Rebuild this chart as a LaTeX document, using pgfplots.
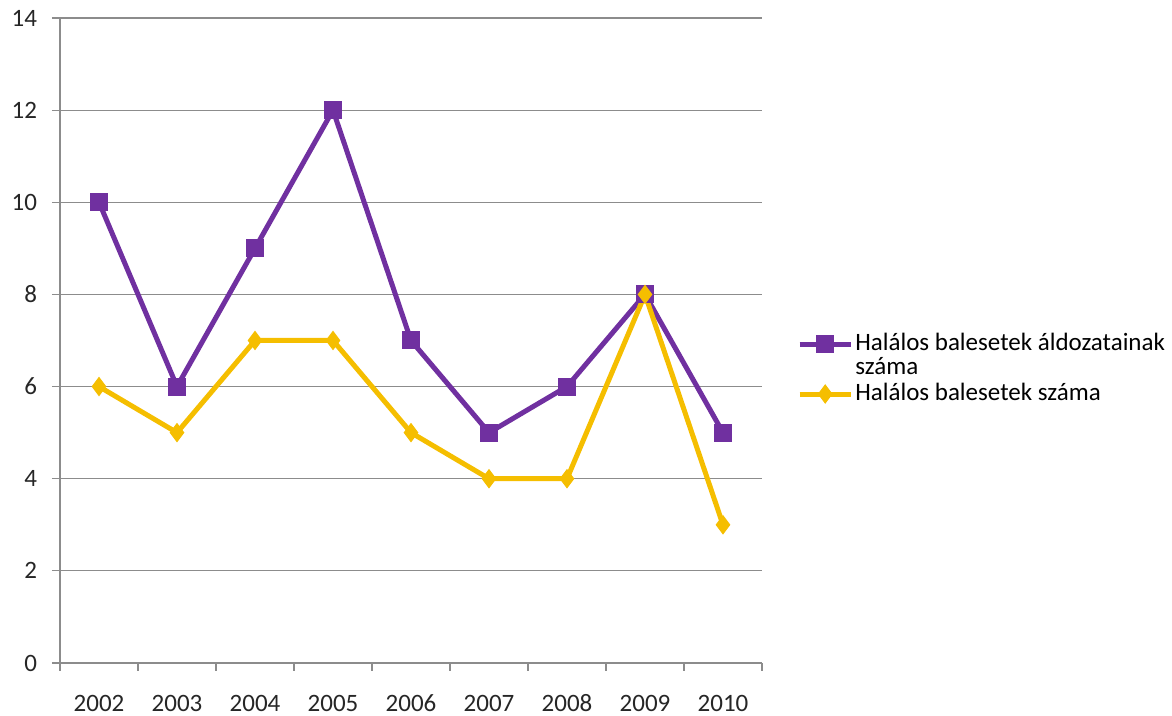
\documentclass[border=0pt]{standalone}
\usepackage{pgfplots}
\pgfplotsset{compat=1.18}
\usepackage{fontspec}
\setmainfont{Carlito}
\definecolor{purp}{HTML}{7030A0}
\definecolor{yell}{HTML}{F5BE00}
\definecolor{gridg}{HTML}{8C8C8C}
\begin{document}
\begin{tikzpicture}
\path[use as bounding box] (-30pt,-26.5pt) rectangle (556pt,331.5pt);
\begin{axis}[
  at={(0,0)}, anchor=south west,
  scale only axis, width=351pt, height=322.5pt,
  xmin=-0.5, xmax=8.5, ymin=0, ymax=14,
  axis x line=bottom, axis y line=left,
  axis line style={draw=gridg, line width=0.6pt, -},
  xtick={0,...,8},
  xticklabels={2002,2003,2004,2005,2006,2007,2008,2009,2010},
  minor xtick={-0.5,0.5,...,8.5},
  ytick={0,2,...,14},
  major x tick style={draw=none},
  minor x tick style={draw=gridg, line width=0.6pt},
  y tick style={draw=gridg, line width=0.6pt},
  tick align=outside,
  major tick length=4pt, minor tick length=4pt,
  ymajorgrids, grid style={draw=gridg, line width=0.6pt},
  tick label style={font=\fontsize{12.5}{14}\selectfont, text=black!85},
  /pgf/number format/assume math mode=true,
  xticklabel style={text height=9pt, text depth=0pt, yshift=-7.5pt},
  yticklabel style={xshift=-4pt},
  clip=false,
  legend style={at={(rel axis cs:1.050,0.5147)}, anchor=north west, draw=none, fill=none,
    inner sep=0pt, outer sep=0pt,
    font=\fontsize{12.5}{14}\selectfont, row sep=12pt, column sep=0pt,
    nodes={inner sep=1pt, text height=8.5pt, text depth=2.5pt}},
  legend cell align=left,
  legend image code/.code={\draw[mark repeat=2,mark phase=2] plot coordinates {(0cm,0cm)(0.45cm,0cm)(0.9cm,0cm)};},
]
\addplot[purp, line width=2.5pt, mark=square*, mark size=4.25pt, mark options={solid, line width=0.5pt, fill=purp}]
  coordinates {(0,10)(1,6)(2,9)(3,12)(4,7)(5,5)(6,6)(7,8)(8,5)};
\addlegendentry{\rlap{\smash{\raisebox{-12.4pt}{száma}}}Halálos balesetek áldozatainak}
\addplot[yell, line width=2.5pt, mark=diamond*, mark size=4.5pt, mark options={solid, line width=0.5pt, fill=yell}]
  coordinates {(0,6)(1,5)(2,7)(3,7)(4,5)(5,4)(6,4)(7,8)(8,3)};
\addlegendentry{Halálos balesetek száma}
\end{axis}
\end{tikzpicture}
\end{document}
